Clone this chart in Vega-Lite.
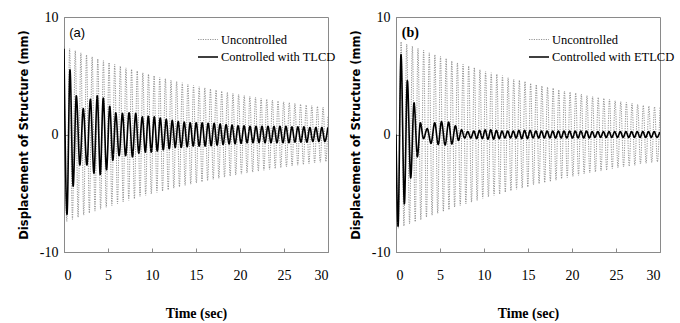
{
"$schema": "https://vega.github.io/schema/vega-lite/v6.json",
"padding": {"left": 17, "top": 9, "right": 0, "bottom": 0},
"autosize": "pad",
"background": "white",
"config": {
  "view": {"stroke": "#8a8a8a", "strokeWidth": 1},
  "axis": {"grid": false, "domainColor": "#8a8a8a", "tickColor": "#8a8a8a", "labelFont": "Liberation Serif", "labelFontSize": 14, "labelColor": "#000", "titleColor": "#000"},
  "legend": {"labelFont": "Liberation Serif", "labelFontSize": 12.5, "labelColor": "#000"}
},
"datasets": {
"a": [
{"s":"u","t":0,"y":7.5},{"s":"u","t":0.32,"y":-7.41},{"s":"u","t":0.64,"y":7.31},{"s":"u","t":0.96,"y":-7.22},{"s":"u","t":1.28,"y":7.13},{"s":"u","t":1.6,"y":-7.04},{"s":"u","t":1.92,"y":6.95},{"s":"u","t":2.24,"y":-6.86},{"s":"u","t":2.56,"y":6.78},{"s":"u","t":2.88,"y":-6.69},
{"s":"u","t":3.2,"y":6.61},{"s":"u","t":3.52,"y":-6.52},{"s":"u","t":3.84,"y":6.44},{"s":"u","t":4.16,"y":-6.36},{"s":"u","t":4.48,"y":6.28},{"s":"u","t":4.8,"y":-6.2},{"s":"u","t":5.12,"y":6.12},{"s":"u","t":5.44,"y":-6.04},{"s":"u","t":5.76,"y":5.97},{"s":"u","t":6.08,"y":-5.89},
{"s":"u","t":6.4,"y":5.82},{"s":"u","t":6.72,"y":-5.74},{"s":"u","t":7.04,"y":5.67},{"s":"u","t":7.36,"y":-5.6},{"s":"u","t":7.68,"y":5.53},{"s":"u","t":8,"y":-5.46},{"s":"u","t":8.32,"y":5.39},{"s":"u","t":8.64,"y":-5.32},{"s":"u","t":8.96,"y":5.25},{"s":"u","t":9.28,"y":-5.19},
{"s":"u","t":9.6,"y":5.12},{"s":"u","t":9.92,"y":-5.06},{"s":"u","t":10.24,"y":4.99},{"s":"u","t":10.56,"y":-4.93},{"s":"u","t":10.88,"y":4.87},{"s":"u","t":11.2,"y":-4.81},{"s":"u","t":11.52,"y":4.75},{"s":"u","t":11.84,"y":-4.69},{"s":"u","t":12.16,"y":4.63},{"s":"u","t":12.48,"y":-4.57},
{"s":"u","t":12.8,"y":4.51},{"s":"u","t":13.12,"y":-4.45},{"s":"u","t":13.44,"y":4.4},{"s":"u","t":13.76,"y":-4.34},{"s":"u","t":14.08,"y":4.29},{"s":"u","t":14.4,"y":-4.23},{"s":"u","t":14.72,"y":4.18},{"s":"u","t":15.04,"y":-4.13},{"s":"u","t":15.36,"y":4.07},{"s":"u","t":15.68,"y":-4.02},
{"s":"u","t":16,"y":3.97},{"s":"u","t":16.32,"y":-3.92},{"s":"u","t":16.64,"y":3.87},{"s":"u","t":16.96,"y":-3.82},{"s":"u","t":17.28,"y":3.78},{"s":"u","t":17.6,"y":-3.73},{"s":"u","t":17.92,"y":3.68},{"s":"u","t":18.24,"y":-3.63},{"s":"u","t":18.56,"y":3.59},{"s":"u","t":18.88,"y":-3.54},
{"s":"u","t":19.2,"y":3.5},{"s":"u","t":19.52,"y":-3.45},{"s":"u","t":19.84,"y":3.41},{"s":"u","t":20.16,"y":-3.37},{"s":"u","t":20.48,"y":3.32},{"s":"u","t":20.8,"y":-3.28},{"s":"u","t":21.12,"y":3.24},{"s":"u","t":21.44,"y":-3.2},{"s":"u","t":21.76,"y":3.16},{"s":"u","t":22.08,"y":-3.12},
{"s":"u","t":22.4,"y":3.08},{"s":"u","t":22.72,"y":-3.04},{"s":"u","t":23.04,"y":3},{"s":"u","t":23.36,"y":-2.97},{"s":"u","t":23.68,"y":2.93},{"s":"u","t":24,"y":-2.89},{"s":"u","t":24.32,"y":2.85},{"s":"u","t":24.64,"y":-2.82},{"s":"u","t":24.96,"y":2.78},{"s":"u","t":25.28,"y":-2.75},
{"s":"u","t":25.6,"y":2.71},{"s":"u","t":25.92,"y":-2.68},{"s":"u","t":26.24,"y":2.65},{"s":"u","t":26.56,"y":-2.61},{"s":"u","t":26.88,"y":2.58},{"s":"u","t":27.2,"y":-2.55},{"s":"u","t":27.52,"y":2.51},{"s":"u","t":27.84,"y":-2.48},{"s":"u","t":28.16,"y":2.45},{"s":"u","t":28.48,"y":-2.42},
{"s":"u","t":28.8,"y":2.39},{"s":"u","t":29.12,"y":-2.36},{"s":"u","t":29.44,"y":2.33},{"s":"u","t":29.76,"y":-2.3},{"s":"u","t":30,"y":1.6},
{"s":"c","t":0,"y":7.3},{"s":"c","t":0.34,"y":-6.8},{"s":"c","t":0.68,"y":5.5},{"s":"c","t":1.04,"y":-4.4},{"s":"c","t":1.4,"y":3.3},{"s":"c","t":1.8,"y":-2.6},{"s":"c","t":2.19,"y":2.2},{"s":"c","t":2.6,"y":-2.6},{"s":"c","t":3,"y":3},{"s":"c","t":3.4,"y":-3.3},
{"s":"c","t":3.78,"y":3.3},{"s":"c","t":4.12,"y":-3.4},{"s":"c","t":4.46,"y":3.1},{"s":"c","t":4.83,"y":-3},{"s":"c","t":5.2,"y":2.4},{"s":"c","t":5.55,"y":-2.2},{"s":"c","t":5.88,"y":1.85},{"s":"c","t":6.26,"y":-1.8},{"s":"c","t":6.64,"y":1.8},{"s":"c","t":7,"y":-1.8},
{"s":"c","t":7.4,"y":1.85},{"s":"c","t":7.78,"y":-1.9},{"s":"c","t":8.15,"y":1.8},{"s":"c","t":8.5,"y":-1.6},{"s":"c","t":8.9,"y":1.5},{"s":"c","t":9.24,"y":-1.5},{"s":"c","t":9.58,"y":1.55},{"s":"c","t":9.92,"y":-1.5},{"s":"c","t":10.26,"y":1.5},{"s":"c","t":10.6,"y":-1.4},
{"s":"c","t":10.94,"y":1.4},{"s":"c","t":11.28,"y":-1.3},{"s":"c","t":11.62,"y":1.3},{"s":"c","t":11.96,"y":-1.2},{"s":"c","t":12.3,"y":1.2},{"s":"c","t":12.64,"y":-1.1},{"s":"c","t":12.98,"y":1.1},{"s":"c","t":13.32,"y":-1.1},{"s":"c","t":13.66,"y":1.05},{"s":"c","t":14,"y":-1.05},
{"s":"c","t":14.34,"y":1},{"s":"c","t":14.68,"y":-1},{"s":"c","t":15.02,"y":1},{"s":"c","t":15.36,"y":-1},{"s":"c","t":15.7,"y":1},{"s":"c","t":16.04,"y":-1},{"s":"c","t":16.38,"y":0.95},{"s":"c","t":16.72,"y":-0.95},{"s":"c","t":17.06,"y":0.95},{"s":"c","t":17.4,"y":-0.9},
{"s":"c","t":17.74,"y":0.9},{"s":"c","t":18.08,"y":-0.85},{"s":"c","t":18.42,"y":0.85},{"s":"c","t":18.76,"y":-0.8},{"s":"c","t":19.1,"y":0.8},{"s":"c","t":19.44,"y":-0.8},{"s":"c","t":19.78,"y":0.75},{"s":"c","t":20.12,"y":-0.75},{"s":"c","t":20.46,"y":0.75},{"s":"c","t":20.8,"y":-0.7},
{"s":"c","t":21.14,"y":0.7},{"s":"c","t":21.48,"y":-0.7},{"s":"c","t":21.82,"y":0.7},{"s":"c","t":22.16,"y":-0.7},{"s":"c","t":22.5,"y":0.7},{"s":"c","t":22.84,"y":-0.7},{"s":"c","t":23.18,"y":0.7},{"s":"c","t":23.52,"y":-0.7},{"s":"c","t":23.86,"y":0.7},{"s":"c","t":24.2,"y":-0.7},
{"s":"c","t":24.54,"y":0.7},{"s":"c","t":24.88,"y":-0.7},{"s":"c","t":25.22,"y":0.7},{"s":"c","t":25.56,"y":-0.7},{"s":"c","t":25.9,"y":0.65},{"s":"c","t":26.24,"y":-0.65},{"s":"c","t":26.58,"y":0.65},{"s":"c","t":26.92,"y":-0.65},{"s":"c","t":27.26,"y":0.65},{"s":"c","t":27.6,"y":-0.65},
{"s":"c","t":27.94,"y":0.6},{"s":"c","t":28.28,"y":-0.6},{"s":"c","t":28.62,"y":0.6},{"s":"c","t":28.96,"y":-0.6},{"s":"c","t":29.3,"y":0.6},{"s":"c","t":29.64,"y":-0.6},{"s":"c","t":29.98,"y":0.6}
],
"b": [
{"s":"u","t":0,"y":0},{"s":"u","t":0.26,"y":-7.98},{"s":"u","t":0.58,"y":7.89},{"s":"u","t":0.9,"y":-7.79},{"s":"u","t":1.22,"y":7.7},{"s":"u","t":1.54,"y":-7.61},{"s":"u","t":1.86,"y":7.52},{"s":"u","t":2.18,"y":-7.43},{"s":"u","t":2.5,"y":7.34},{"s":"u","t":2.82,"y":-7.26},{"s":"u","t":3.14,"y":7.17},
{"s":"u","t":3.46,"y":-7.04},{"s":"u","t":3.78,"y":6.95},{"s":"u","t":4.1,"y":-6.87},{"s":"u","t":4.42,"y":6.79},{"s":"u","t":4.74,"y":-6.71},{"s":"u","t":5.06,"y":6.63},{"s":"u","t":5.38,"y":-6.55},{"s":"u","t":5.7,"y":6.47},{"s":"u","t":6.02,"y":-6.4},{"s":"u","t":6.34,"y":6.26},
{"s":"u","t":6.66,"y":-6.19},{"s":"u","t":6.98,"y":6.11},{"s":"u","t":7.3,"y":-6.04},{"s":"u","t":7.62,"y":5.97},{"s":"u","t":7.94,"y":-5.9},{"s":"u","t":8.26,"y":5.83},{"s":"u","t":8.58,"y":-5.76},{"s":"u","t":8.9,"y":5.69},{"s":"u","t":9.22,"y":-5.62},{"s":"u","t":9.54,"y":5.51},
{"s":"u","t":9.86,"y":-5.44},{"s":"u","t":10.18,"y":5.38},{"s":"u","t":10.5,"y":-5.31},{"s":"u","t":10.82,"y":5.25},{"s":"u","t":11.14,"y":-5.19},{"s":"u","t":11.46,"y":5.13},{"s":"u","t":11.78,"y":-5.07},{"s":"u","t":12.1,"y":5.01},{"s":"u","t":12.42,"y":-4.9},{"s":"u","t":12.74,"y":4.84},
{"s":"u","t":13.06,"y":-4.78},{"s":"u","t":13.38,"y":4.72},{"s":"u","t":13.7,"y":-4.67},{"s":"u","t":14.02,"y":4.61},{"s":"u","t":14.34,"y":-4.56},{"s":"u","t":14.66,"y":4.5},{"s":"u","t":14.98,"y":-4.45},{"s":"u","t":15.3,"y":4.34},{"s":"u","t":15.62,"y":-4.28},{"s":"u","t":15.94,"y":4.23},
{"s":"u","t":16.26,"y":-4.18},{"s":"u","t":16.58,"y":4.13},{"s":"u","t":16.9,"y":-4.08},{"s":"u","t":17.22,"y":4.03},{"s":"u","t":17.54,"y":-3.99},{"s":"u","t":17.86,"y":3.94},{"s":"u","t":18.18,"y":-3.89},{"s":"u","t":18.5,"y":3.79},{"s":"u","t":18.82,"y":-3.75},{"s":"u","t":19.14,"y":3.7},
{"s":"u","t":19.46,"y":-3.66},{"s":"u","t":19.78,"y":3.61},{"s":"u","t":20.1,"y":-3.57},{"s":"u","t":20.42,"y":3.53},{"s":"u","t":20.74,"y":-3.48},{"s":"u","t":21.06,"y":3.44},{"s":"u","t":21.38,"y":-3.35},{"s":"u","t":21.7,"y":3.31},{"s":"u","t":22.02,"y":-3.27},{"s":"u","t":22.34,"y":3.23},
{"s":"u","t":22.66,"y":-3.19},{"s":"u","t":22.98,"y":3.15},{"s":"u","t":23.3,"y":-3.11},{"s":"u","t":23.62,"y":3.08},{"s":"u","t":23.94,"y":-3.04},{"s":"u","t":24.26,"y":3},{"s":"u","t":24.58,"y":-2.9},{"s":"u","t":24.9,"y":2.87},{"s":"u","t":25.22,"y":-2.83},{"s":"u","t":25.54,"y":2.8},
{"s":"u","t":25.86,"y":-2.76},{"s":"u","t":26.18,"y":2.73},{"s":"u","t":26.5,"y":-2.7},{"s":"u","t":26.82,"y":2.66},{"s":"u","t":27.14,"y":-2.63},{"s":"u","t":27.46,"y":2.56},{"s":"u","t":27.78,"y":-2.51},{"s":"u","t":28.1,"y":2.48},{"s":"u","t":28.42,"y":-2.45},{"s":"u","t":28.74,"y":2.42},
{"s":"u","t":29.06,"y":-2.39},{"s":"u","t":29.38,"y":2.36},{"s":"u","t":29.7,"y":-2.33},{"s":"u","t":30,"y":2.3},
{"s":"c","t":0,"y":0},{"s":"c","t":0.23,"y":-7.8},{"s":"c","t":0.57,"y":6.8},{"s":"c","t":0.95,"y":-5.9},{"s":"c","t":1.29,"y":4.6},{"s":"c","t":1.67,"y":-3.7},{"s":"c","t":2.05,"y":2.7},{"s":"c","t":2.43,"y":-1.9},{"s":"c","t":2.77,"y":1},{"s":"c","t":3.12,"y":-0.35},
{"s":"c","t":3.55,"y":0.5},{"s":"c","t":3.98,"y":-0.75},{"s":"c","t":4.4,"y":1},{"s":"c","t":4.8,"y":-0.85},{"s":"c","t":5.17,"y":1.1},{"s":"c","t":5.58,"y":-0.9},{"s":"c","t":5.98,"y":1.05},{"s":"c","t":6.35,"y":-0.8},{"s":"c","t":6.75,"y":0.75},{"s":"c","t":7.1,"y":-0.5},
{"s":"c","t":7.45,"y":0.4},{"s":"c","t":7.8,"y":-0.3},{"s":"c","t":8.15,"y":0.25},{"s":"c","t":8.5,"y":-0.3},{"s":"c","t":8.85,"y":0.3},{"s":"c","t":9.17,"y":-0.35},{"s":"c","t":9.49,"y":0.35},{"s":"c","t":9.81,"y":-0.35},{"s":"c","t":10.13,"y":0.4},{"s":"c","t":10.45,"y":-0.4},
{"s":"c","t":10.77,"y":0.4},{"s":"c","t":11.09,"y":-0.4},{"s":"c","t":11.41,"y":0.35},{"s":"c","t":11.73,"y":-0.35},{"s":"c","t":12.05,"y":0.3},{"s":"c","t":12.37,"y":-0.3},{"s":"c","t":12.69,"y":0.3},{"s":"c","t":13.01,"y":-0.3},{"s":"c","t":13.33,"y":0.3},{"s":"c","t":13.65,"y":-0.3},
{"s":"c","t":13.97,"y":0.35},{"s":"c","t":14.29,"y":-0.35},{"s":"c","t":14.61,"y":0.35},{"s":"c","t":14.93,"y":-0.35},{"s":"c","t":15.25,"y":0.35},{"s":"c","t":15.57,"y":-0.3},{"s":"c","t":15.89,"y":0.3},{"s":"c","t":16.21,"y":-0.3},{"s":"c","t":16.53,"y":0.3},{"s":"c","t":16.85,"y":-0.3},
{"s":"c","t":17.17,"y":0.3},{"s":"c","t":17.49,"y":-0.3},{"s":"c","t":17.81,"y":0.3},{"s":"c","t":18.13,"y":-0.3},{"s":"c","t":18.45,"y":0.3},{"s":"c","t":18.77,"y":-0.3},{"s":"c","t":19.09,"y":0.3},{"s":"c","t":19.41,"y":-0.3},{"s":"c","t":19.73,"y":0.3},{"s":"c","t":20.05,"y":-0.3},
{"s":"c","t":20.37,"y":0.3},{"s":"c","t":20.69,"y":-0.3},{"s":"c","t":21.01,"y":0.3},{"s":"c","t":21.33,"y":-0.3},{"s":"c","t":21.65,"y":0.3},{"s":"c","t":21.97,"y":-0.3},{"s":"c","t":22.29,"y":0.25},{"s":"c","t":22.61,"y":-0.25},{"s":"c","t":22.93,"y":0.25},{"s":"c","t":23.25,"y":-0.25},
{"s":"c","t":23.57,"y":0.25},{"s":"c","t":23.89,"y":-0.25},{"s":"c","t":24.21,"y":0.25},{"s":"c","t":24.53,"y":-0.25},{"s":"c","t":24.85,"y":0.25},{"s":"c","t":25.17,"y":-0.25},{"s":"c","t":25.49,"y":0.25},{"s":"c","t":25.81,"y":-0.25},{"s":"c","t":26.13,"y":0.25},{"s":"c","t":26.45,"y":-0.25},
{"s":"c","t":26.77,"y":0.25},{"s":"c","t":27.09,"y":-0.25},{"s":"c","t":27.41,"y":0.25},{"s":"c","t":27.73,"y":-0.25},{"s":"c","t":28.05,"y":0.25},{"s":"c","t":28.37,"y":-0.25},{"s":"c","t":28.69,"y":0.25},{"s":"c","t":29.01,"y":-0.25},{"s":"c","t":29.33,"y":0.25},{"s":"c","t":29.65,"y":-0.25},{"s":"c","t":29.97,"y":0.2}
]
},
"spacing": 68,
"bounds": "flush",
"hconcat": [
 {"width": 264, "height": 235,
  "layer": [
   {"data": {"name": "a"},
    "mark": {"type": "line", "interpolate": "monotone", "clip": true},
    "encoding": {
     "x": {"field": "t", "type": "quantitative", "scale": {"domain": [0, 30], "nice": false},
           "axis": {"values": [0,5,10,15,20,25,30], "tickSize": -4, "labelPadding": 20, "title": "Time (sec)", "titleFont": "Liberation Serif", "titleFontSize": 14, "titleFontWeight": "bold", "titlePadding": 24}},
     "y": {"field": "y", "type": "quantitative", "scale": {"domain": [-10, 10], "nice": false},
           "axis": {"values": [-10,0,10], "tickSize": -4, "labelPadding": 10, "labelExpr": "datum.value + ''", "title": "Displacement of Structure (mm)", "titleFont": "DejaVu Sans", "titleFontSize": 11.5, "titleFontWeight": "bold", "titlePadding": 10}},
     "color": {"field": "s", "type": "nominal", "scale": {"domain": ["u","c"], "range": ["#7a7a7a", "#000000"]},
               "legend": {"title": null, "orient": "none", "legendX": 133, "legendY": 12, "symbolType": "stroke", "symbolSize": 400, "labelOffset": 2, "rowPadding": 0, "labelExpr": "datum.label == 'u' ? 'Uncontrolled' : 'Controlled with TLCD'"}},
     "strokeDash": {"field": "s", "type": "nominal", "scale": {"domain": ["u","c"], "range": [[1.2,1.2],[1,0]]},
               "legend": {"title": null, "orient": "none", "legendX": 133, "legendY": 12, "symbolType": "stroke", "symbolSize": 400, "labelOffset": 2, "rowPadding": 0, "labelExpr": "datum.label == 'u' ? 'Uncontrolled' : 'Controlled with TLCD'"}},
     "strokeWidth": {"field": "s", "type": "nominal", "scale": {"domain": ["u","c"], "range": [0.8, 1.6]},
               "legend": {"title": null, "orient": "none", "legendX": 133, "legendY": 12, "symbolType": "stroke", "symbolSize": 400, "labelOffset": 2, "rowPadding": 0, "labelExpr": "datum.label == 'u' ? 'Uncontrolled' : 'Controlled with TLCD'"}}
    }},
   {"data": {"values": [{"t": 0.6, "y": 8.6, "txt": "(a)"}]},
    "mark": {"type": "text", "align": "left", "baseline": "middle", "font": "Liberation Sans", "fontSize": 13, "color": "#000"},
    "encoding": {"x": {"field": "t", "type": "quantitative"}, "y": {"field": "y", "type": "quantitative"}, "text": {"field": "txt"}}}
  ]},
 {"width": 264, "height": 235,
  "layer": [
   {"data": {"name": "b"},
    "mark": {"type": "line", "interpolate": "monotone", "clip": true},
    "encoding": {
     "x": {"field": "t", "type": "quantitative", "scale": {"domain": [0, 30], "nice": false},
           "axis": {"values": [0,5,10,15,20,25,30], "tickSize": -4, "labelPadding": 20, "title": "Time (sec)", "titleFont": "Liberation Serif", "titleFontSize": 14, "titleFontWeight": "bold", "titlePadding": 24}},
     "y": {"field": "y", "type": "quantitative", "scale": {"domain": [-10, 10], "nice": false},
           "axis": {"values": [-10,0,10], "tickSize": -4, "labelPadding": 10, "labelExpr": "datum.value + ''", "title": "Displacement of Structure (mm)", "titleFont": "DejaVu Sans", "titleFontSize": 11.5, "titleFontWeight": "bold", "titlePadding": 10}},
     "color": {"field": "s", "type": "nominal", "scale": {"domain": ["u","c"], "range": ["#7a7a7a", "#000000"]},
               "legend": {"title": null, "orient": "none", "legendX": 132, "legendY": 12, "symbolType": "stroke", "symbolSize": 400, "labelOffset": 2, "rowPadding": 0, "labelExpr": "datum.label == 'u' ? 'Uncontrolled' : 'Controlled with ETLCD'"}},
     "strokeDash": {"field": "s", "type": "nominal", "scale": {"domain": ["u","c"], "range": [[1.2,1.2],[1,0]]},
               "legend": {"title": null, "orient": "none", "legendX": 132, "legendY": 12, "symbolType": "stroke", "symbolSize": 400, "labelOffset": 2, "rowPadding": 0, "labelExpr": "datum.label == 'u' ? 'Uncontrolled' : 'Controlled with ETLCD'"}},
     "strokeWidth": {"field": "s", "type": "nominal", "scale": {"domain": ["u","c"], "range": [0.8, 1.6]},
               "legend": {"title": null, "orient": "none", "legendX": 132, "legendY": 12, "symbolType": "stroke", "symbolSize": 400, "labelOffset": 2, "rowPadding": 0, "labelExpr": "datum.label == 'u' ? 'Uncontrolled' : 'Controlled with ETLCD'"}}
    }},
   {"data": {"values": [{"t": 0.65, "y": 8.6, "txt": "(b)"}]},
    "mark": {"type": "text", "align": "left", "baseline": "middle", "font": "Liberation Serif", "fontSize": 14, "fontWeight": "bold", "color": "#000"},
    "encoding": {"x": {"field": "t", "type": "quantitative"}, "y": {"field": "y", "type": "quantitative"}, "text": {"field": "txt"}}}
  ]}
],
"resolve": {"scale": {"color": "independent", "strokeDash": "independent", "strokeWidth": "independent"}, "legend": {"color": "independent", "strokeDash": "independent", "strokeWidth": "independent"}}
}
